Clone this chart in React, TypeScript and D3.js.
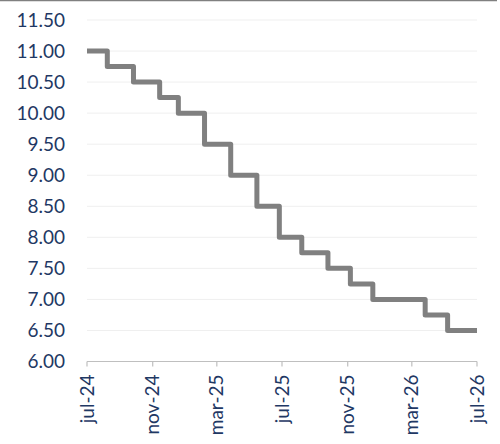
import React from "react";
import * as d3 from "d3";

const stepDates: string[] = [
  "2024-07-01", "2024-08-08", "2024-09-26", "2024-11-14", "2024-12-19",
  "2025-02-06", "2025-03-27", "2025-05-15", "2025-06-26", "2025-08-07",
  "2025-09-25", "2025-11-06", "2025-12-18", "2026-03-26", "2026-05-07", "2026-07-01",
];
const stepRates: number[] = [
  11.0, 10.75, 10.5, 10.25, 10.0,
  9.5, 9.0, 8.5, 8.0, 7.75,
  7.5, 7.25, 7.0, 6.75, 6.5, 6.5,
];
const yTicks: number[] = [6, 6.5, 7, 7.5, 8, 8.5, 9, 9.5, 10, 10.5, 11, 11.5];
const xTickDates: string[] = ["2024-07-01", "2024-11-01", "2025-03-01", "2025-07-01", "2025-11-01", "2026-03-01", "2026-07-01"];
const xTickLabels: string[] = ["jul-24", "nov-24", "mar-25", "jul-25", "nov-25", "mar-26", "jul-26"];

const W = 500, H = 444;
const left = 87, right = 477, top = 20, bottom = 361.5;
const labelColor = "#1f3864";
const font = "Lato, 'Open Sans', sans-serif";

export default function App() {
  const parse = d3.utcParse("%Y-%m-%d");
  const x = d3.scaleUtc().domain([parse("2024-07-01")!, parse("2026-07-01")!]).range([left, right]);
  const y = d3.scaleLinear().domain([6, 11.5]).range([bottom, top]);
  const data = stepDates.map((d, i) => ({ date: parse(d)!, v: stepRates[i] }));
  const line = d3.line<{ date: Date; v: number }>()
    .x((d) => x(d.date))
    .y((d) => y(d.v))
    .curve(d3.curveStepAfter);

  return (
    <svg width={W} height={H} style={{ position: "absolute", left: 0, top: 0, background: "#fff" }}>
      <line x1={0} x2={497} y1={0.5} y2={0.5} stroke="#808080" strokeWidth={1.5} />
      {yTicks.filter((t) => t > 6).map((t) => (
        <line key={"g" + t} x1={left} x2={right} y1={y(t)} y2={y(t)} stroke="#efefef" strokeWidth={1} />
      ))}
      {yTicks.map((t) => (
        <text key={"y" + t} x={65} y={y(t)} dy="0.36em" textAnchor="end" fill={labelColor}
          fontFamily={font} fontSize={19}>{t.toFixed(2)}</text>
      ))}
      <line x1={left} x2={right} y1={bottom} y2={bottom} stroke="#bfbfbf" strokeWidth={1.2} />
      {xTickDates.map((d, i) => {
        const xx = x(parse(d)!);
        return (
          <g key={"x" + d}>
            <line x1={xx} x2={xx} y1={bottom} y2={bottom + 5} stroke="#bfbfbf" strokeWidth={1.2} />
            <text transform={`translate(${xx},${bottom + 13}) rotate(-90)`} textAnchor="end" dy="0.35em"
              fill={labelColor} fontFamily={font} fontSize={19}>{xTickLabels[i]}</text>
          </g>
        );
      })}
      <path d={line(data) || ""} fill="none" stroke="#808080" strokeWidth={5} strokeLinejoin="round" strokeLinecap="butt" />
    </svg>
  );
}
